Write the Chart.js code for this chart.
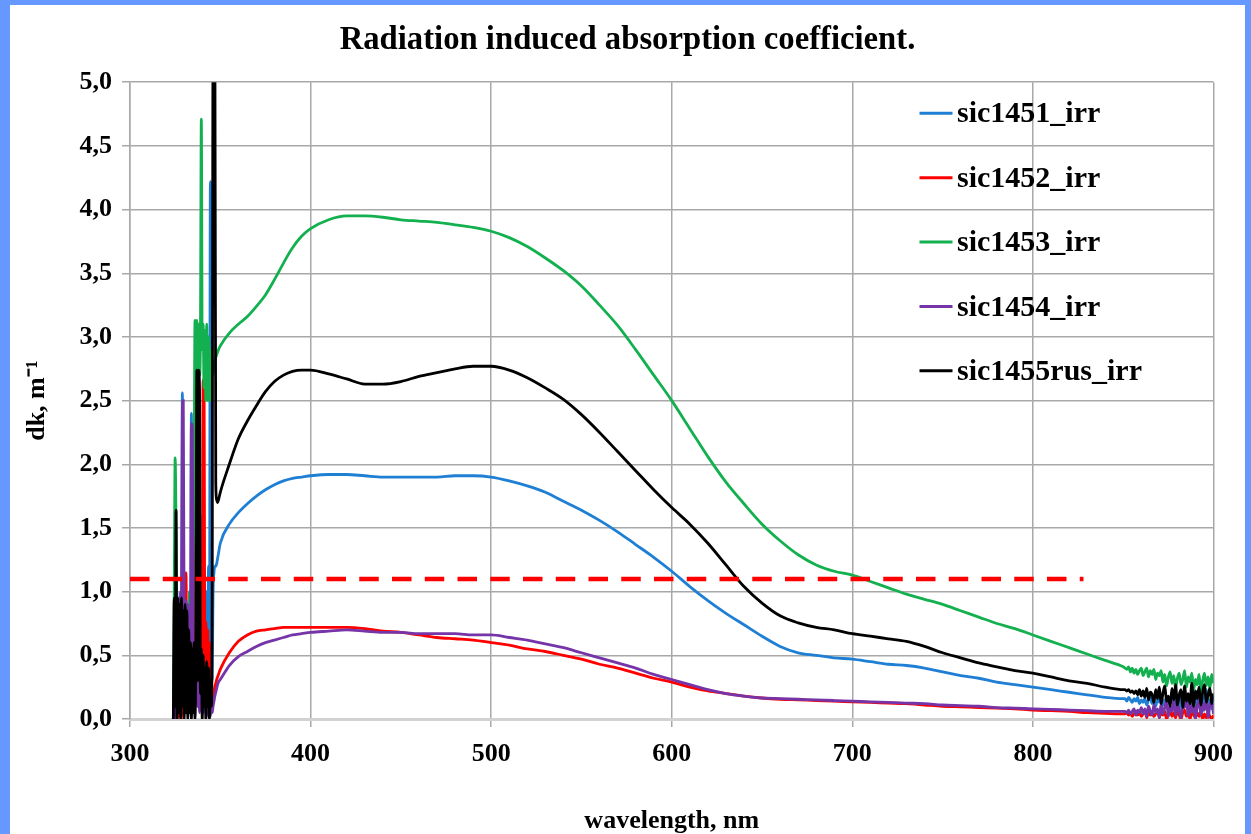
<!DOCTYPE html>
<html>
<head>
<meta charset="utf-8">
<script src="https://cdn.jsdelivr.net/npm/chart.js@4.4.1/dist/chart.umd.min.js"></script>
<style>
  html, body { margin: 0; padding: 0; width: 1251px; height: 834px; overflow: hidden; background: #6699ff; }
  #wrap { position: absolute; left: 10px; top: 5px; width: 1235px; height: 860px; background: #ffffff; }
  canvas { display: block; }
</style>
</head>
<body>
<div id="wrap"><canvas id="c" width="1235" height="860"></canvas></div>
<script>
// ---- data ----
const wavelength = [
  324,324.5,325,325.5,326,326.5,327,327.5,328,328.5,
  329,329.5,330,330.5,331,331.5,332,332.5,333,333.5,
  334,334.5,335,335.5,336,336.5,337,337.5,338,338.5,
  339,339.5,340,340.5,341,341.5,342,342.5,343,343.5,
  344,344.5,345,345.5,346,346.5,347,347.5,348,348.5,349,
  350,355,360,365,370,375,380,385,390,395,400,
  410,420,430,440,450,460,470,480,490,500,
  510,520,530,540,550,560,570,580,590,600,
  610,620,630,640,650,660,670,680,690,700,
  710,720,730,740,750,760,770,780,790,800,
  810,820,830,840,850,
  851,852,853,854,855,856,857,858,859,860,
  861,862,863,864,865,866,867,868,869,870,
  871,872,873,874,875,876,877,878,879,880,
  881,882,883,884,885,886,887,888,889,890,
  891,892,893,894,895,896,897,898,899,900
];

const sic1451_irr = [
  0,0.4,0.9,0.2,1.0,0.3,0.8,0.1,0.9,0.3,
  2.56,0.5,0.9,0.2,0.8,0.1,0.6,0.2,1.0,0.3,
  2.4,0.4,0.8,0.2,0.9,0.1,1.2,0.3,1.4,0.2,
  1.6,0.4,1.0,0.3,0.8,0.2,0.6,1.0,0.5,1.2,
  0.4,4.22,4.1,0.3,1.0,1.15,1.2,1.2,1.22,1.26,1.3,
  1.38,1.53,1.62,1.69,1.75,1.80,1.84,1.87,1.89,1.90,1.91,
  1.92,1.92,1.91,1.90,1.90,1.90,1.90,1.91,1.91,1.90,
  1.87,1.83,1.78,1.71,1.64,1.56,1.47,1.37,1.27,1.16,
  1.04,0.93,0.83,0.74,0.65,0.57,0.52,0.50,0.48,0.47,
  0.45,0.43,0.42,0.40,0.37,0.34,0.32,0.29,0.27,0.25,
  0.23,0.21,0.19,0.17,0.16,
  0.16,0.14,0.17,0.15,0.13,0.16,0.14,0.17,0.12,0.15,
  0.13,0.16,0.11,0.15,0.17,0.12,0.14,0.10,0.16,0.13,
  0.18,0.11,0.15,0.09,0.17,0.12,0.20,0.10,0.14,0.18,
  0.08,0.16,0.21,0.11,0.15,0.07,0.19,0.13,0.22,0.09,
  0.16,0.12,0.20,0.06,0.17,0.23,0.10,0.15,0.08,0.18
];

const sic1452_irr = [
  0,0.2,0.5,0.1,0.3,0,0.7,0.2,0.4,0,
  0.8,0.3,0.6,0.1,1.15,0.3,0.9,0.2,0.5,0.1,
  0.8,0.3,1.78,0.4,1.5,0.2,1.0,0.1,0.7,0.3,
  0.9,0.2,0.6,2.66,2.6,0.4,0.76,0.2,0.7,0.2,
  0.6,0.1,0.5,0.1,0.15,0.2,0.25,0.28,0.31,0.33,0.35,
  0.39,0.52,0.61,0.66,0.69,0.70,0.71,0.72,0.72,0.72,0.72,
  0.72,0.72,0.71,0.69,0.68,0.66,0.64,0.63,0.62,0.60,
  0.58,0.55,0.53,0.50,0.47,0.43,0.40,0.36,0.32,0.29,
  0.25,0.22,0.20,0.18,0.165,0.155,0.15,0.145,0.14,0.135,
  0.13,0.125,0.12,0.11,0.10,0.095,0.09,0.085,0.08,0.07,
  0.065,0.06,0.05,0.045,0.04,
  0.04,0.05,0.03,0.05,0.02,0.04,0.06,0.03,0.05,0.02,
  0.04,0.07,0.01,0.05,0.03,0.06,0.02,0.04,0.07,0.01,
  0.05,0.03,0.06,0.00,0.04,0.07,0.02,0.05,0.01,0.06,
  0.03,0.00,0.05,0.07,0.02,0.04,0.00,0.06,0.03,0.01,
  0.05,0.02,0.06,0.00,0.04,0.01,0.05,0.02,0.00,0.03
];

const sic1453_irr = [
  0,1.0,2.05,1.5,0.6,0.2,0.5,0.1,0.6,0.2,
  0.8,0.3,0.6,0.1,0.7,0.2,0.9,0.3,1.0,0.4,
  0.8,0.2,1.2,1.9,3.13,2.6,3.13,2.4,3.1,2.7,
  3.0,4.71,2.9,3.1,2.6,3.05,2.5,3.1,2.5,3.0,
  2.5,2.9,2.6,2.8,2.7,2.8,2.82,2.84,2.86,2.88,2.9,
  2.93,3.03,3.10,3.16,3.24,3.33,3.45,3.58,3.70,3.79,3.85,
  3.92,3.95,3.95,3.94,3.92,3.91,3.90,3.88,3.86,3.83,
  3.78,3.71,3.62,3.52,3.40,3.25,3.09,2.90,2.70,2.50,
  2.28,2.06,1.86,1.69,1.53,1.40,1.29,1.21,1.16,1.13,
  1.08,1.03,0.98,0.94,0.90,0.85,0.80,0.75,0.71,0.66,
  0.61,0.56,0.51,0.46,0.41,
  0.40,0.39,0.41,0.37,0.40,0.36,0.39,0.35,0.38,0.40,
  0.34,0.37,0.40,0.33,0.38,0.35,0.39,0.31,0.36,0.34,
  0.38,0.29,0.35,0.26,0.33,0.37,0.28,0.34,0.24,0.32,
  0.36,0.27,0.31,0.38,0.25,0.33,0.29,0.36,0.23,0.31,
  0.27,0.35,0.22,0.30,0.36,0.26,0.33,0.24,0.35,0.28
];

const sic1454_irr = [
  0,0.1,0.3,0,0.5,0.1,0.7,0.2,1.0,0.8,
  2.45,2.5,0.6,0.3,0.93,0.4,0.9,0.2,0.8,0.6,
  2.32,2.3,0.5,0.1,0.6,0.2,0.5,0.1,0.4,0.05,
  0.3,0.1,0.3,0.05,0.2,0.1,0.15,0.02,0.15,0.05,
  0.12,0.02,0.1,0.05,0.1,0.14,0.18,0.21,0.24,0.27,0.29,
  0.31,0.42,0.49,0.53,0.57,0.60,0.62,0.64,0.66,0.67,0.68,
  0.69,0.70,0.69,0.68,0.68,0.67,0.67,0.67,0.66,0.66,
  0.64,0.62,0.59,0.56,0.52,0.48,0.44,0.40,0.35,0.31,
  0.27,0.23,0.20,0.18,0.165,0.16,0.155,0.15,0.145,0.14,
  0.135,0.13,0.125,0.12,0.11,0.105,0.10,0.09,0.085,0.08,
  0.075,0.07,0.065,0.06,0.06,
  0.06,0.05,0.07,0.04,0.06,0.08,0.03,0.07,0.05,0.09,
  0.04,0.08,0.02,0.10,0.06,0.03,0.11,0.05,0.08,0.01,
  0.12,0.04,0.09,0.14,0.02,0.10,0.06,0.15,0.03,0.11,
  0.07,0.01,0.13,0.09,0.16,0.02,0.12,0.05,0.14,0.00,
  0.10,0.15,0.03,0.12,0.07,0.16,0.01,0.11,0.14,0.04
];

const sic1455rus_irr = [
  0,0.95,0.1,1.64,0,0.95,0.05,0.9,0,0.95,
  0.1,0.85,0,0.9,0.05,0.85,0,0.7,0.05,0.6,
  0,0.55,0.05,0.6,0,0.7,2.74,0.3,2.74,2.6,
  0.2,0.55,0,0.5,0.1,0.4,0,0.45,0.1,0.4,
  0,0.3,0.1,1.0,5.4,5.4,5.4,1.85,1.72,1.70,1.72,
  1.78,2.00,2.20,2.34,2.46,2.57,2.65,2.70,2.73,2.74,2.74,
  2.71,2.67,2.63,2.63,2.65,2.69,2.72,2.75,2.77,2.77,
  2.74,2.68,2.60,2.51,2.39,2.25,2.10,1.95,1.80,1.66,
  1.53,1.38,1.21,1.04,0.91,0.81,0.755,0.72,0.70,0.67,
  0.65,0.63,0.61,0.57,0.52,0.48,0.44,0.41,0.38,0.36,
  0.33,0.30,0.28,0.25,0.23,
  0.23,0.22,0.23,0.21,0.22,0.20,0.22,0.19,0.23,0.18,
  0.22,0.17,0.24,0.15,0.21,0.19,0.13,0.23,0.16,0.25,
  0.12,0.20,0.26,0.14,0.18,0.10,0.24,0.15,0.27,0.11,
  0.19,0.23,0.09,0.26,0.14,0.20,0.12,0.28,0.10,0.22,
  0.16,0.25,0.11,0.21,0.27,0.13,0.19,0.24,0.12,0.20
];

const seriesNames = ['sic1451_irr', 'sic1452_irr', 'sic1453_irr', 'sic1454_irr', 'sic1455rus_irr'];
const seriesValues = [sic1451_irr, sic1452_irr, sic1453_irr, sic1454_irr, sic1455rus_irr];
const seriesColors = ['#1f7fd4', '#ff0000', '#13b04f', '#7534a8', '#000000'];

const thresholdX = [300, 828];
const thresholdY = [1.1, 1.1];

const xTickValues = [300, 400, 500, 600, 700, 800, 900];
const yTickValues = [0, 0.5, 1, 1.5, 2, 2.5, 3, 3.5, 4, 4.5, 5];

// ---- chart ----
const FONT = '"Liberation Serif", "Times New Roman", serif';
Chart.defaults.font.family = FONT;
Chart.defaults.color = '#000';

const toPoints = (xs, ys) => xs.map((x, i) => ({ x: x, y: ys[i] }));

const datasets = seriesNames.map((name, i) => ({
  label: name,
  data: toPoints(wavelength, seriesValues[i]),
  borderColor: seriesColors[i],
  backgroundColor: seriesColors[i],
  borderWidth: 2.8,
  pointRadius: 0,
  cubicInterpolationMode: 'monotone',
  fill: false,
  order: seriesNames.length - i
}));

datasets.push({
  label: 'threshold',
  inLegend: false,
  data: toPoints(thresholdX, thresholdY),
  borderColor: '#ff0000',
  borderWidth: 4.5,
  borderDash: [19.5, 13.25],
  pointRadius: 0,
  fill: false,
  order: 0
});

const insideLegend = {
  id: 'insideLegend',
  afterDatasetsDraw(chart) {
    const { ctx, chartArea } = chart;
    const items = chart.data.datasets.filter(d => d.inLegend !== false);
    ctx.save();
    ctx.font = 'bold 30px ' + FONT;
    ctx.textBaseline = 'middle';
    ctx.textAlign = 'left';
    const x0 = chartArea.right - 294;
    items.forEach((d, i) => {
      const y = chartArea.top + 31 + i * 64.4;
      ctx.strokeStyle = d.borderColor;
      ctx.lineWidth = 3;
      ctx.setLineDash([]);
      ctx.beginPath();
      ctx.moveTo(x0, y);
      ctx.lineTo(x0 + 33, y);
      ctx.stroke();
      ctx.fillStyle = '#000';
      ctx.fillText(d.label, x0 + 37.5, y + 1.5);
    });
    ctx.restore();
  }
};

new Chart(document.getElementById('c'), {
  type: 'line',
  data: { datasets: datasets },
  plugins: [insideLegend],
  options: {
    responsive: false,
    animation: false,
    layout: { padding: { left: 0, right: 0, top: 0, bottom: 0 } },
    plugins: {
      legend: { display: false },
      tooltip: { enabled: false },
      title: {
        display: true,
        text: 'Radiation induced absorption coefficient.',
        color: '#000',
        font: { size: 32.7, weight: 'bold', family: FONT },
        padding: { top: 16, bottom: 22 }
      }
    },
    scales: {
      x: {
        type: 'linear',
        min: 300,
        max: 900,
        afterBuildTicks(scale) { scale.ticks = xTickValues.map(v => ({ value: v })); },
        afterFit(scale) { scale.height = 146; },
        ticks: {
          padding: 12,
          maxRotation: 0,
          color: '#000',
          font: { size: 26, weight: 'bold', family: FONT }
        },
        grid: { color: '#a8a8a8', lineWidth: 1.5, tickLength: 8, drawTicks: true },
        border: { display: true, color: '#d2d2d2', width: 3 },
        title: {
          display: true,
          text: 'wavelength, nm',
          color: '#000',
          font: { size: 26, weight: 'bold', family: FONT },
          padding: { top: 0, bottom: 28 }
        }
      },
      y: {
        type: 'linear',
        min: 0,
        max: 5,
        afterBuildTicks(scale) { scale.ticks = yTickValues.map(v => ({ value: v })); },
        afterFit(scale) { scale.width = 120; },
        ticks: {
          padding: 10,
          color: '#000',
          font: { size: 26, weight: 'bold', family: FONT },
          callback: v => Number(v).toFixed(1).replace('.', ',')
        },
        grid: { color: '#a8a8a8', lineWidth: 1.5, tickLength: 8, drawTicks: true },
        border: { display: true, color: '#a8a8a8', width: 1.5 },
        title: {
          display: true,
          text: 'dk, m\u207B\u00B9',
          color: '#000',
          font: { size: 26, weight: 'bold', family: FONT },
          padding: { top: 12, bottom: 0 }
        }
      },
      yRight: {
        type: 'linear',
        position: 'right',
        min: 0,
        max: 5,
        display: true,
        afterFit(scale) { scale.width = 29; },
        ticks: { display: false },
        grid: { display: false, drawTicks: false },
        border: { display: false }
      }
    }
  }
});
</script>
</body>
</html>
